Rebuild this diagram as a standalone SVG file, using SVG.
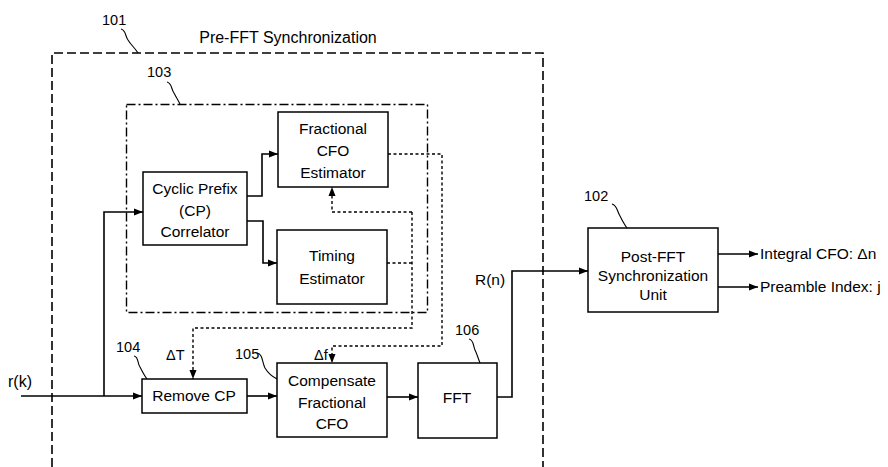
<svg xmlns="http://www.w3.org/2000/svg" width="888" height="467" viewBox="0 0 888 467">
<style>
text{font-family:"Liberation Sans",Arial,sans-serif;font-size:15.5px;fill:#000;text-anchor:middle}
.lbl{font-size:14.5px;text-anchor:start}
.box{fill:#fff;stroke:#000;stroke-width:1.5}
.w{fill:none;stroke:#000;stroke-width:1.6}
.dot{fill:none;stroke:#000;stroke-width:1.4;stroke-dasharray:3 2.5}
.outer{fill:none;stroke:#000;stroke-width:1.6;stroke-dasharray:9 4}
.dd{fill:none;stroke:#000;stroke-width:1.4;stroke-dasharray:9 3 2 3}
.lead{fill:none;stroke:#000;stroke-width:1.1}
</style>
<defs>
<marker id="ah" markerWidth="10" markerHeight="8" refX="9" refY="4" orient="auto" markerUnits="userSpaceOnUse">
<path d="M0,0.5 L9,4 L0,7.5 Z" fill="#000"/>
</marker>
</defs>
<rect width="888" height="467" fill="#fff"/>

<g id="frame101">
<path class="outer" d="M52,467 V53 H543 V467"/>
<text class="lbl" x="102" y="25">101</text>
<path class="lead" d="M121,29 c5,1 4,7 7,11 c3,5 7,8 10,13"/>
<text x="288" y="43" style="font-size:16px">Pre-FFT Synchronization</text>
</g>

<g id="group103">
<rect class="dd" x="126.5" y="104.5" width="301" height="208"/>
<text class="lbl" x="147" y="77">103</text>
<path class="lead" d="M167,82 c5,1 4,7 7,11 c2,4 4,7 6,11"/>
</g>

<g id="connectors">
<path class="w" d="M21,396 H142" marker-end="url(#ah)"/>
<path class="w" d="M104,396 V212 H143" marker-end="url(#ah)"/>
<path class="w" d="M247,196 H262 V154 H278" marker-end="url(#ah)"/>
<path class="w" d="M247,221 H263 V263 H277" marker-end="url(#ah)"/>
<path class="w" d="M247,396 H277" marker-end="url(#ah)"/>
<path class="w" d="M387,397 H418" marker-end="url(#ah)"/>
<path class="w" d="M497,397 H512 V271 H588" marker-end="url(#ah)"/>
<path class="w" d="M718,254 H758" marker-end="url(#ah)"/>
<path class="w" d="M718,287 H758" marker-end="url(#ah)"/>
<path class="dot" d="M388,154 H442 V346 H332 V363" marker-end="url(#ah)"/>
<path class="dot" d="M387,263 H412"/>
<path class="dot" d="M412,212 H332 V187" marker-end="url(#ah)"/>
<path class="dot" d="M412,212 V328 H193 V379" marker-end="url(#ah)"/>
</g>

<g id="cp">
<rect class="box" x="143" y="172" width="104" height="73"/>
<text x="195" y="194">Cyclic Prefix</text>
<text x="195" y="216">(CP)</text>
<text x="195" y="237">Correlator</text>
</g>

<g id="fracest">
<rect class="box" x="278" y="112" width="110" height="75"/>
<text x="333" y="134">Fractional</text>
<text x="333" y="156">CFO</text>
<text x="333" y="178">Estimator</text>
</g>

<g id="timing">
<rect class="box" x="277" y="230" width="110" height="74"/>
<text x="332" y="261">Timing</text>
<text x="332" y="284">Estimator</text>
</g>

<g id="removecp">
<rect class="box" x="142" y="379" width="105" height="34"/>
<text x="194" y="401">Remove CP</text>
<text class="lbl" x="116" y="352">104</text>
<path class="lead" d="M134,356 c5,1 3,7 6,11 c2,4 4,8 7,12"/>
</g>

<g id="compensate">
<rect class="box" x="277" y="363" width="110" height="74"/>
<text x="332" y="386">Compensate</text>
<text x="332" y="408">Fractional</text>
<text x="332" y="429">CFO</text>
<text class="lbl" x="235" y="359">105</text>
<path class="lead" d="M257,353 c6,1 5,9 8,15 c3,5 6,8 12,11"/>
</g>

<g id="fft">
<rect class="box" x="418" y="363" width="79" height="75"/>
<text x="457" y="403">FFT</text>
<text class="lbl" x="455" y="335">106</text>
<path class="lead" d="M469,339 c5,1 4,7 6,11 c2,4 3,8 5,13"/>
</g>

<g id="postfft">
<rect class="box" x="588" y="228" width="130" height="84"/>
<text x="653" y="262">Post-FFT</text>
<text x="653" y="281">Synchronization</text>
<text x="653" y="300">Unit</text>
<text class="lbl" x="584" y="201">102</text>
<path class="lead" d="M612,204 c5,1 5,7 8,12 c2,4 4,8 7,12"/>
</g>

<g id="labels">
<text class="lbl" x="8" y="387" style="font-size:16px">r(k)</text>
<text class="lbl" x="166" y="360">ΔT</text>
<text class="lbl" x="314" y="360">Δf</text>
<text class="lbl" x="475" y="285" style="font-size:15.5px">R(n)</text>
<text class="lbl" x="760" y="259" style="font-size:15.5px">Integral CFO: Δn</text>
<text class="lbl" x="760" y="292" style="font-size:15.5px">Preamble Index: j</text>
</g>
</svg>
